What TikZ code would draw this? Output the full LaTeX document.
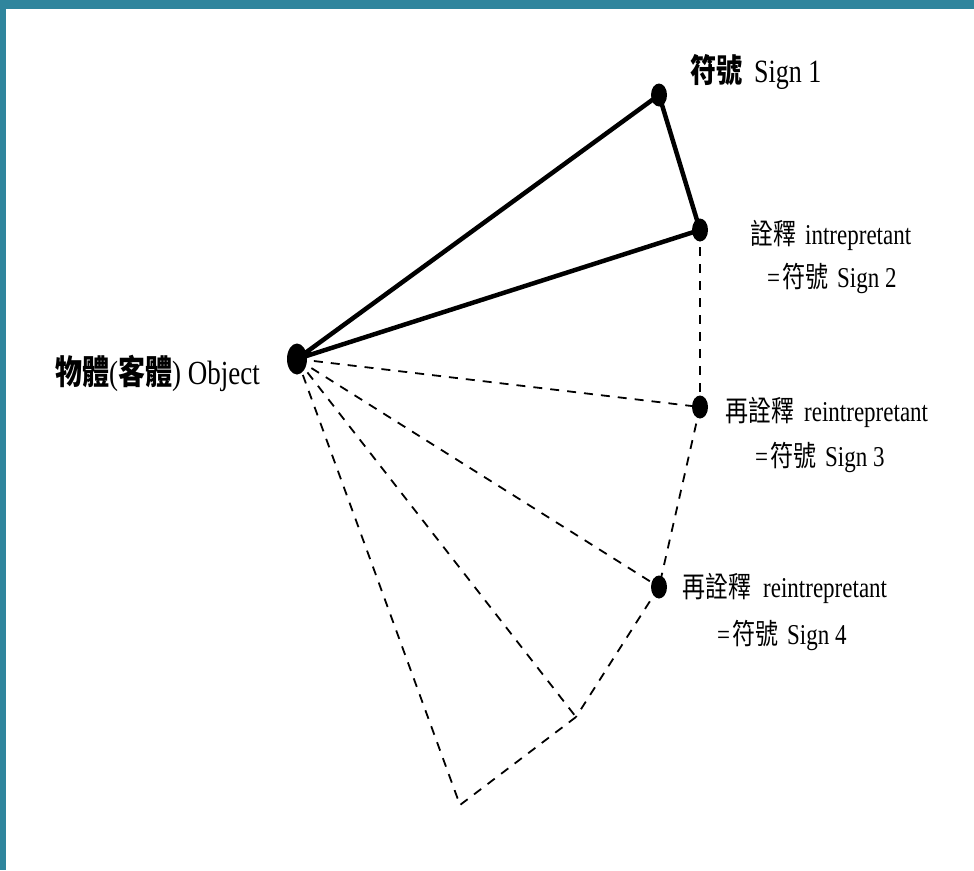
\documentclass[tikz,border=0pt]{standalone}
\usepackage{fontspec}
\usepackage{graphicx}
\setmainfont{Liberation Serif}
\newfontfamily\cjk{Noto Sans CJK TC}
\usetikzlibrary{shapes.geometric}
\definecolor{frameteal}{RGB}{47,133,157}
\newcommand\zh[1]{{\cjk #1}}
\newcommand\zhb[1]{{\cjk\bfseries #1}}
\newcommand\tallbox[1]{\scalebox{1}[1.25]{#1}}
\begin{document}
\begin{tikzpicture}[x=1pt,y=-1pt,
  solidlink/.style={line width=4.5pt, line cap=round, line join=round},
  dashlink/.style={line width=1.8pt, dash pattern=on 9pt off 8pt},
  bigdot/.style={ellipse, fill=black, inner sep=0pt, minimum width=20pt, minimum height=31pt},
  dot/.style={ellipse, fill=black, inner sep=0pt, minimum width=16pt, minimum height=23pt},
  lbl/.style={anchor=west, inner sep=0pt, font=\fontsize{23}{23}\selectfont},
  biglbl/.style={anchor=west, inner sep=0pt, font=\fontsize{27}{27}\selectfont},
]
% frame: teal strip along the top and left edges
\fill[frameteal] (0,0) rectangle (974,870);
\fill[white] (6,9) rectangle (974,870);
\useasboundingbox (0,0) rectangle (974,870);

% points of the semiosis fan
\coordinate (O)  at (297,359);
\coordinate (S1) at (659,95);
\coordinate (S2) at (700,230);
\coordinate (S3) at (700,407);
\coordinate (S4) at (659,587);
\coordinate (P5) at (576,717);
\coordinate (P6) at (460,805);

% first triangle: object, sign, interpretant
\draw[solidlink] (O) -- (S1) -- (S2) -- cycle;

% further interpretations, dashed
\draw[dashlink] (S2) -- (S3);
\draw[dashlink] (O) -- (S3);
\draw[dashlink] (S3) -- (S4);
\draw[dashlink] (O) -- (S4);
\draw[dashlink] (S4) -- (P5);
\draw[dashlink] (O) -- (P5);
\draw[dashlink] (P5) -- (P6);
\draw[dashlink] (O) -- (P6);

% dots
\node[bigdot] (dO) at (O) {};
\node[dot] (d1) at (S1) {};
\node[dot] (d2) at (S2) {};
\node[dot] (d3) at (S3) {};
\node[dot] (d4) at (S4) {};

% labels
\node[biglbl] (lO) at (55,373) {\tallbox{\zhb{物體}(\zhb{客體}) Object}};
\node[biglbl, font=\fontsize{26}{26}\selectfont] (l1) at (690,72) {\tallbox{\zhb{符號}\hspace{12pt}Sign 1}};

\node[lbl] (l2a) at (750,235) {\tallbox{\zh{詮釋}\hspace{9pt}intrepretant}};
\node[lbl] (l2b) at (767,278) {\tallbox{=\hspace{2pt}\zh{符號}\hspace{9pt}Sign 2}};

\node[lbl] (l3a) at (725,412) {\tallbox{\zh{再詮釋}\hspace{10pt}reintrepretant}};
\node[lbl] (l3b) at (755,457) {\tallbox{=\hspace{2pt}\zh{符號}\hspace{9pt}Sign 3}};

\node[lbl] (l4a) at (682,588) {\tallbox{\zh{再詮釋}\hspace{12pt}reintrepretant}};
\node[lbl] (l4b) at (717,635) {\tallbox{=\hspace{2pt}\zh{符號}\hspace{9pt}Sign 4}};
\end{tikzpicture}
\end{document}
